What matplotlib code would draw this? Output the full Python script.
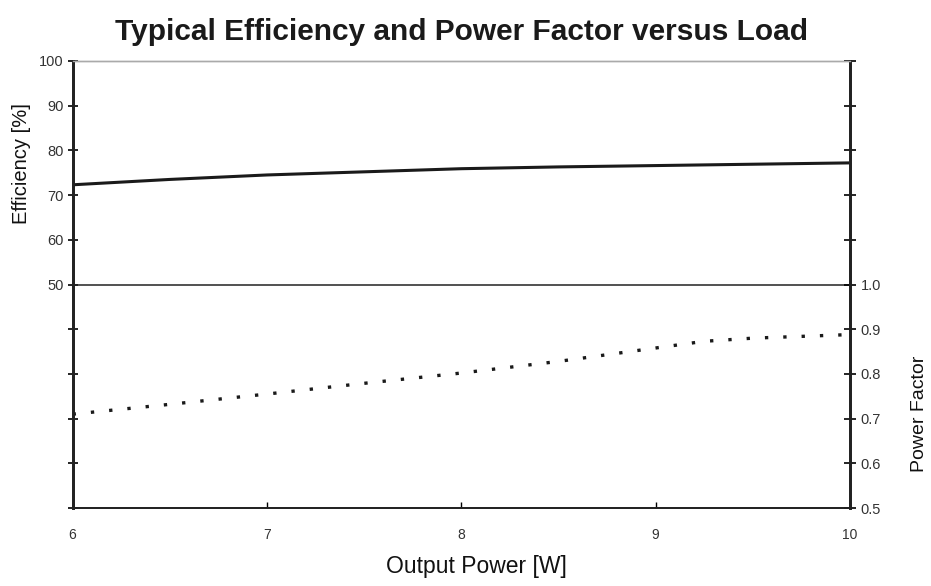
import matplotlib.pyplot as plt

plt.rcParams['font.family'] = ['Liberation Sans', 'DejaVu Sans']

# load points, output power in W
power = [6.0, 6.5, 7.0, 7.5, 8.0, 8.5, 9.0, 9.5, 10.0]
efficiency = [72.3, 73.5, 74.5, 75.2, 75.9, 76.3, 76.6, 76.9, 77.2]

pf_power = [6.0, 6.5, 7.0, 7.5, 8.0, 8.5, 9.0, 9.25, 9.5, 10.0]
power_factor = [0.71, 0.732, 0.755, 0.779, 0.802, 0.828, 0.858, 0.873, 0.88, 0.888]

eff_ticks = [0, 10, 20, 30, 40, 50, 60, 70, 80, 90, 100]
eff_labels = ['', '', '', '', '', '50', '60', '70', '80', '90', '100']
pf_ticks = [0.5, 0.6, 0.7, 0.8, 0.9, 1.0, 1.1, 1.2, 1.3, 1.4, 1.5]
pf_labels = ['0.5', '0.6', '0.7', '0.8', '0.9', '1.0', '', '', '', '', '']
x_ticks = [6, 7, 8, 9, 10]

fig = plt.figure(figsize=(9.31, 5.86), dpi=100)
ax = fig.add_axes([0.078, 0.133, 0.835, 0.763])
ax2 = ax.twinx()

ax.plot(power, efficiency, color='#1a1a1a', lw=2.2)
ax.axhline(50, color='#222222', lw=1.1)
ax2.plot(pf_power, power_factor, color='#1a1a1a', lw=2.4,
         linestyle=(0, (1.0, 4.5)))

ax.set_xlim(6, 10)
ax.set_ylim(0, 100)
ax2.set_ylim(0.5, 1.5)

ax.set_xticks(x_ticks)
ax.set_yticks(eff_ticks)
ax.set_yticklabels(eff_labels)
ax2.set_yticks(pf_ticks)
ax2.set_yticklabels(pf_labels)

for a in (ax, ax2):
    a.spines['left'].set_linewidth(2.0)
    a.spines['right'].set_linewidth(2.0)
    a.spines['bottom'].set_linewidth(1.3)
    a.spines['top'].set_linewidth(1.0)
    a.spines['top'].set_color('#aaaaaa')
    a.spines['top'].set_linestyle((0, (2, 1)))
    for s in a.spines.values():
        if s is not a.spines['top']:
            s.set_color('#222222')

ax.tick_params(axis='y', direction='inout', length=7, width=1.2,
               labelsize=10.5, labelcolor='#333333', pad=3)
ax2.tick_params(axis='y', direction='inout', length=9, width=1.2,
                labelsize=10.5, labelcolor='#333333', pad=3)
ax.tick_params(axis='x', direction='in', length=4, width=1.0,
               labelsize=10, labelcolor='#333333', pad=14)

ax.set_title('Typical Efficiency and Power Factor versus Load',
             fontsize=21.5, fontweight='bold', color='#1a1a1a', pad=15)
ax.set_xlabel('Output Power [W]', fontsize=16.5, color='#111111', labelpad=10,
              x=0.52)
ax.set_ylabel('Efficiency [%]', fontsize=14.5, color='#111111', labelpad=6,
              y=0.77)
ax2.set_ylabel('Power Factor', fontsize=14, color='#111111', labelpad=22,
               y=0.21)

fig.savefig('out.png', dpi=100)
